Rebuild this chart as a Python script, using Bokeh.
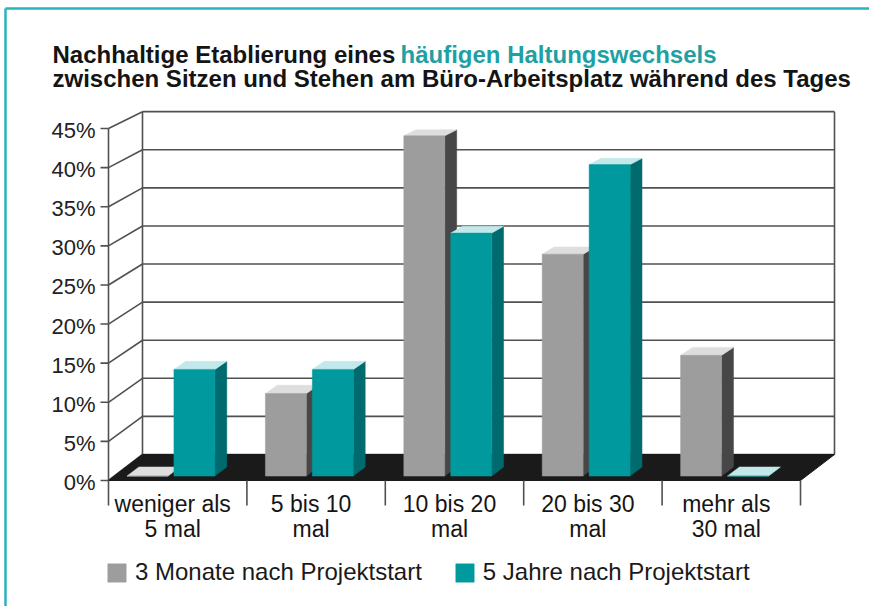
from bokeh.plotting import figure
from bokeh.models import Range1d, Legend, LegendItem
from bokeh.core.properties import value
from bokeh.embed import file_html
from bokeh.resources import INLINE

# ---------------- data ----------------
categories = ["weniger als\n5 mal", "5 bis 10\nmal", "10 bis 20\nmal", "20 bis 30\nmal", "mehr als\n30 mal"]
series_names = ["3 Monate nach Projektstart", "5 Jahre nach Projektstart"]
months3 = [0.0, 10.6, 43.7, 28.5, 15.5]
years5 = [13.7, 13.7, 31.2, 40.0, 0.0]
y_ticks = [0, 5, 10, 15, 20, 25, 30, 35, 40, 45]
y_tick_labels = [f"{t}%" for t in y_ticks]
title_black = "Nachhaltige Etablierung eines "
title_teal = "häufigen Haltungswechsels"
title_line2 = "zwischen Sitzen und Stehen am Büro-Arbeitsplatz während des Tages"

# ---------------- style / layout ----------------
FONT = "Liberation Sans"
W, H = 869, 606
PXC = 138.4      # px per category unit
PXV = 7.822      # px per percent unit
OX, OY = 108, 480  # pixel position of the front-left origin

def ix(px):
    return (px - OX) / PXC

def iy(py):
    return (OY - py) / PXV

DX = 34 / PXC
DY = 26 / PXV
K = 0.026

def proj(x, v, d):
    return x + d * DX, v * (1 - d * K) + d * DY

N = len(categories)
VMAX = y_ticks[-1]

p = figure(width=W, height=H, output_backend="svg", toolbar_location=None,
           x_range=Range1d(ix(0), ix(W)), y_range=Range1d(iy(H), iy(0)),
           x_axis_type=None, y_axis_type=None, min_border=0)
p.grid.visible = False
p.outline_line_color = None
p.background_fill_color = "white"
p.border_fill_color = "white"

GRID = "#505050"
LW = 1.6

# back wall grid lines and left wall lines
gx0, gy0, gx1, gy1 = [], [], [], []
for t in y_ticks:
    a = proj(0, t, 1); b = proj(N, t, 1)
    gx0.append(a[0]); gy0.append(a[1]); gx1.append(b[0]); gy1.append(b[1])
    c = proj(0, t, 0)
    gx0.append(c[0]); gy0.append(c[1]); gx1.append(a[0]); gy1.append(a[1])
for (x, d) in [(0, 0), (0, 1), (N, 1)]:
    a = proj(x, 0, d); b = proj(x, VMAX, d)
    gx0.append(a[0]); gy0.append(a[1]); gx1.append(b[0]); gy1.append(b[1])
p.segment(gx0, gy0, gx1, gy1, line_color=GRID, line_width=LW)

# front tick marks
tick_len = 8 / PXC
p.segment([-tick_len] * len(y_ticks), y_ticks, [0] * len(y_ticks), y_ticks,
          line_color=GRID, line_width=LW)

# floor
fl = [proj(0, 0, 0), proj(N, 0, 0), proj(N, 0, 1), proj(0, 0, 1)]
p.patch([q[0] for q in fl], [q[1] for q in fl], fill_color="#1a1a1a", line_color="#1a1a1a", line_width=1)

# category separators
sep_len = 25 / PXV
p.segment(list(range(N + 1)), [0] * (N + 1), list(range(N + 1)), [-sep_len] * (N + 1),
          line_color=GRID, line_width=LW)

# bars
D0, D1 = 0.17, 0.52
BW = 0.296
offsets = [0.092, 0.431]
colors = [
    dict(front="#9d9d9d", top="#dedede", side="#474747"),
    dict(front="#009a9e", top="#c2e8ea", side="#006b6e"),
]
front_renderers = []
for s, vals in enumerate([months3, years5]):
    fx, fy, tx, ty, sx, sy = [], [], [], [], [], []
    for i, v in enumerate(vals):
        xa = i + offsets[s]
        xb = xa + BW
        f = [proj(xa, 0, D0), proj(xb, 0, D0), proj(xb, v, D0), proj(xa, v, D0)]
        t = [proj(xa, v, D0), proj(xb, v, D0), proj(xb, v, D1), proj(xa, v, D1)]
        sd = [proj(xb, 0, D0), proj(xb, 0, D1), proj(xb, v, D1), proj(xb, v, D0)]
        fx.append([q[0] for q in f]); fy.append([q[1] for q in f])
        tx.append([q[0] for q in t]); ty.append([q[1] for q in t])
        sx.append([q[0] for q in sd]); sy.append([q[1] for q in sd])
    c = colors[s]
    p.patches(sx, sy, fill_color=c["side"], line_color=c["side"], line_width=0.5)
    p.patches(tx, ty, fill_color=c["top"], line_color=c["top"], line_width=0.5)
    r = p.patches(fx, fy, fill_color=c["front"], line_color=c["front"], line_width=0.5)
    front_renderers.append(r)

# y tick labels
p.text([-13 / PXC] * len(y_ticks), [t - 0.25 for t in y_ticks], text=y_tick_labels,
       text_align="right", text_baseline="middle", text_font=value(FONT),
       text_font_size="22px", text_color="#222222")

# category labels
line1 = [c.split("\n")[0] for c in categories]
line2 = [c.split("\n")[1] for c in categories]
centers = [i + 0.5 - 5 / PXC for i in range(N)]
p.text(centers, [iy(503.5)] * N, text=line1, text_align="center", text_baseline="alphabetic",
       text_font=value(FONT), text_font_size="23px", text_color="#151515")
p.text(centers, [iy(528)] * N, text=line2, text_align="center", text_baseline="alphabetic",
       text_font=value(FONT), text_font_size="23px", text_color="#151515")

# title
p.text([ix(52)], [iy(54.3)], text=[title_black], text_align="left", text_baseline="alphabetic",
       text_font=value(FONT), text_font_size="24px", text_font_style="bold", text_color="#141414")
p.text([ix(400)], [iy(54.3)], text=[title_teal], text_align="left", text_baseline="alphabetic",
       text_font=value(FONT), text_font_size="24px", text_font_style="bold", text_color="#1fa0a4")
p.text([ix(52)], [iy(78.3)], text=[title_line2], text_align="left", text_baseline="alphabetic",
       text_font=value(FONT), text_font_size="24px", text_font_style="bold", text_color="#141414")

# card border (top and left teal lines)
bx, by = ix(5), iy(8)
xr1, yr0 = ix(W), iy(H)
p.segment([bx, bx], [by, by], [xr1, bx], [by, yr0], line_color="#2bb3bd", line_width=2.5)

# legend
legend = Legend(items=[LegendItem(label=series_names[k], renderers=[front_renderers[k]]) for k in range(2)],
                orientation="horizontal", location=(105, 20),
                label_text_font=FONT, label_text_font_size="24px", label_text_color="#1a1a1a",
                glyph_width=23, glyph_height=23, label_standoff=7, spacing=31,
                padding=0, margin=0, label_height=23,
                border_line_alpha=0, background_fill_alpha=0)
p.add_layout(legend)

open("out.html", "w").write(file_html(p, INLINE))
